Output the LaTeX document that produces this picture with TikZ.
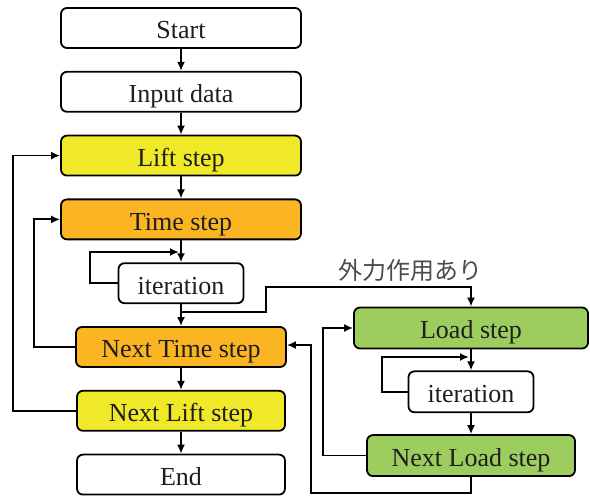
\documentclass[tikz,border=0pt]{standalone}
\usepackage{fontspec}
\newfontfamily\tnr{LiberationSerif}[Extension=.ttf, UprightFont=*-Regular]
\newfontfamily\jpfont{Noto Sans CJK JP}
\usetikzlibrary{arrows.meta,positioning}
\definecolor{liftc}{RGB}{240,233,42}
\definecolor{timec}{RGB}{251,181,35}
\definecolor{loadc}{RGB}{157,205,95}
\definecolor{txt}{RGB}{30,30,30}
\tikzset{
  box/.style={
    rectangle,draw,rounded corners=6pt,line width=1.8pt,align=center,inner sep=2pt,
    minimum height=40pt,minimum width=240pt,fill=white,text=txt,
    text height=22pt,text depth=0pt,
    font=\tnr\fontsize{26}{30}\selectfont
  },
  lift/.style={box, fill=liftc},
  tstep/.style={box, fill=timec},
  load/.style={box, fill=loadc, minimum height=41pt},
  iter/.style={box, minimum width=125pt},
  edge/.style={-{Latex[length=9pt,width=8pt]}, line width=1.8pt}
}
\begin{document}
\begin{tikzpicture}[x=1pt,y=-1pt,node distance=22pt]
\useasboundingbox (0,0) rectangle (590,497);
% main column
\node[box] (start) at (181,28) {Start};
\node[box, below=of start] (input) {Input data};
\node[lift, below=of input] (lift) {Lift step};
\node[tstep, below=of lift] (time) {Time step};
\node[iter, below=of time] (iter1) {iteration};
\node[tstep, below=of iter1, minimum width=210pt] (ntime) {Next Time step};
\node[lift, below=of ntime, minimum width=208pt] (nlift) {Next Lift step};
\node[box, below=of nlift, minimum width=208pt] (end) {End};
% load column
\node[load, minimum width=234pt] (load) at (471,328) {Load step};
\node[iter, below=21pt of load, minimum height=41pt] (iter2) {iteration};
\node[load, below=21pt of iter2, minimum width=208pt] (nload) {Next Load step};
\node[text=txt!80, font=\jpfont\fontsize{24}{28}\selectfont] (force) at (410,270) {外力作用あり};
\coordinate (loop1) at (179,252);
\coordinate (loop2) at (469,357);
\coordinate (fork) at (181,312);
\coordinate (bend) at (266,287);

\draw[edge] (start) -- (input);
\draw[edge] (input) -- (lift);
\draw[edge] (lift) -- (time);
\draw[edge] (time) -- (iter1);
\draw[edge] (iter1) -- (ntime);
\draw[edge] (ntime) -- (nlift);
\draw[edge] (nlift) -- (end);
\draw[edge] (iter1.west) -- ++(-28,0) |- (loop1);
\draw[edge, line width=2.6pt] (fork) -| (bend) -| (load.north);
\draw[edge] (load) -- (iter2);
\draw[edge] (iter2) -- (nload);
\draw[edge] (iter2.west) -- ++(-26,0) |- (loop2);
\draw[edge] (nload.west) -- ++(-43,0) |- (load.west);
\draw[edge] (nload.south) -- ++(0,16) -| ([xshift=24pt,yshift=2pt]ntime.east) -- ([yshift=2pt]ntime.east);
\draw[edge] (ntime.west) -- ++(-41,0) |- (time.west);
\draw[edge] (nlift.west) -- ++(-63,0) |- (lift.west);
\end{tikzpicture}
\end{document}
